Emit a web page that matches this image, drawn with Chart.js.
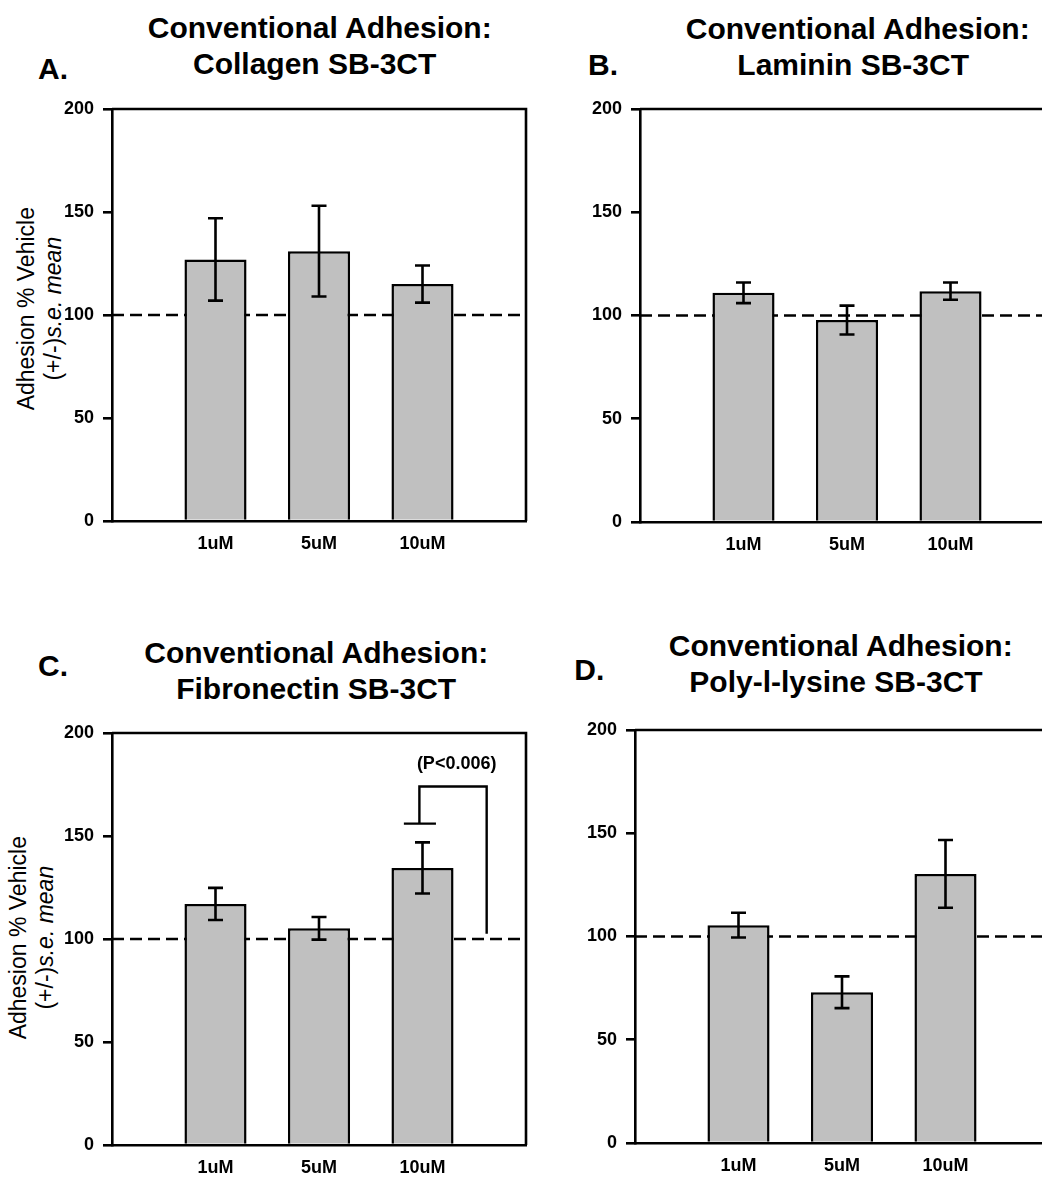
<!DOCTYPE html>
<html><head><meta charset="utf-8">
<script src="https://cdn.jsdelivr.net/npm/chart.js@4.4.0/dist/chart.umd.min.js"></script>
<style>
html,body{margin:0;padding:0;background:#fff;width:1042px;height:1177px;overflow:hidden;position:relative;font-family:'Liberation Sans',Arial,sans-serif;}
canvas{position:absolute;}
.t{position:absolute;width:600px;text-align:center;font-weight:bold;font-size:30px;line-height:30px;white-space:nowrap;color:#000;}
.lt{position:absolute;font-weight:bold;font-size:30px;line-height:30px;color:#000;white-space:nowrap;}
.yt{position:absolute;width:300px;height:53.4px;text-align:center;font-size:23px;line-height:26.7px;transform:rotate(-90deg);white-space:nowrap;color:#000;}
</style></head><body>
<div class="lt" style="left:38px;top:54px">A.</div>
<div class="t" style="left:19.7px;top:13.2px">Conventional Adhesion:</div>
<div class="t" style="left:14.7px;top:48.9px">Collagen SB-3CT</div>
<div class="yt" style="left:-109.6px;top:282.3px">Adhesion % Vehicle<br>(+/-)<i>s.e. mean</i></div>

<div class="lt" style="left:588px;top:50.3px">B.</div>
<div class="t" style="left:557.7px;top:13.9px">Conventional Adhesion:</div>
<div class="t" style="left:553.2px;top:50px">Laminin SB-3CT</div>

<div class="lt" style="left:38px;top:650.8px">C.</div>
<div class="t" style="left:16.3px;top:637.9px">Conventional Adhesion:</div>
<div class="t" style="left:16.2px;top:674px">Fibronectin SB-3CT</div>
<div class="yt" style="left:-117.9px;top:911.3px">Adhesion % Vehicle<br>(+/-)<i>s.e. mean</i></div>

<div class="lt" style="left:574.3px;top:654.8px">D.</div>
<div class="t" style="left:540.7px;top:630.9px">Conventional Adhesion:</div>
<div class="t" style="left:536px;top:666.6px">Poly-l-lysine SB-3CT</div>

<canvas id="cA" width="560" height="581" style="left:0;top:0"></canvas>
<canvas id="cB" width="540" height="582" style="left:540px;top:0"></canvas>
<canvas id="cC" width="560" height="605" style="left:0;top:600px"></canvas>
<canvas id="cD" width="540" height="603" style="left:540px;top:600px"></canvas>

<script>
// ---- data ----
const categories = ['1uM', '5uM', '10uM'];
const yTickValues = [0, 50, 100, 150, 200];
const vehicleLevel = 100;

const collagenMeans = [127, 131, 115];
const collagenErrors = [20, 22, 9];

const lamininMeans = [111, 97.8, 111.8];
const lamininErrors = [5, 7, 4.2];

const fibronectinMeans = [117, 105.2, 134.5];
const fibronectinErrors = [7.8, 5.5, 12.4];

const polylysineMeans = [105.5, 73, 130.3];
const polylysineErrors = [6, 7.7, 16.4];

const sigLabel = '(P<0.006)';
const sigBracketTop = 174;
const sigLeftEnd = 156;
const sigRightEnd = 102.5;

// ---- helpers ----
const FONT = "'Liberation Sans', Arial, sans-serif";
const padLabels = ['', ...categories, ''];
const pad = arr => [null, ...arr, null];

const errorBarPlugin = {
  id: 'errorBars',
  afterDatasetsDraw(chart, args, opts) {
    const meta = chart.getDatasetMeta(1);
    const ys = chart.scales.y;
    const ctx = chart.ctx;
    const vals = chart.data.datasets[1].data;
    const errs = opts.errors || [];
    ctx.save();
    ctx.strokeStyle = '#000';
    ctx.lineWidth = 2.6;
    meta.data.forEach((el, i) => {
      const v = vals[i], e = errs[i];
      if (v == null || e == null) return;
      const x = el.x;
      const yt = ys.getPixelForValue(v + e), yb = ys.getPixelForValue(v - e);
      ctx.beginPath();
      ctx.moveTo(x, yt); ctx.lineTo(x, yb);
      ctx.moveTo(x - 7.5, yt); ctx.lineTo(x + 7.5, yt);
      ctx.moveTo(x - 7.5, yb); ctx.lineTo(x + 7.5, yb);
      ctx.stroke();
    });
    ctx.restore();
  }
};

const framePlugin = {
  id: 'frame',
  afterDatasetsDraw(chart) {
    const {ctx, chartArea: a} = chart;
    ctx.save();
    ctx.strokeStyle = '#000';
    ctx.lineWidth = 2.6;
    ctx.beginPath();
    ctx.moveTo(a.left, a.top);
    ctx.lineTo(a.right, a.top);
    ctx.lineTo(a.right, a.bottom);
    ctx.stroke();
    ctx.restore();
  }
};

const bracketPlugin = {
  id: 'sigBracket',
  afterDatasetsDraw(chart) {
    const xs = chart.scales.x, ys = chart.scales.y, ctx = chart.ctx;
    const xl = xs.getPixelForValue(2.97);
    const xr = xs.getPixelForValue(3.62);
    const c1 = xs.getPixelForValue(2.82), c2 = xs.getPixelForValue(3.13);
    const yTop = ys.getPixelForValue(sigBracketTop);
    const yL = ys.getPixelForValue(sigLeftEnd);
    const yR = ys.getPixelForValue(sigRightEnd);
    ctx.save();
    ctx.strokeStyle = '#000';
    ctx.lineWidth = 2.4;
    ctx.beginPath();
    ctx.moveTo(c1, yL); ctx.lineTo(c2, yL);
    ctx.moveTo(xl, yL); ctx.lineTo(xl, yTop); ctx.lineTo(xr, yTop); ctx.lineTo(xr, yR);
    ctx.stroke();
    ctx.fillStyle = '#000';
    ctx.font = 'bold 18px ' + FONT;
    ctx.textAlign = 'center';
    ctx.textBaseline = 'middle';
    ctx.fillText(sigLabel, xs.getPixelForValue(3.33), ys.getPixelForValue(184.7));
    ctx.restore();
  }
};

function makePanel(id, means, errors, padding, extra) {
  const plugins = [errorBarPlugin, framePlugin];
  if (extra) plugins.push(extra);
  return new Chart(document.getElementById(id), {
    type: 'bar',
    data: {
      labels: padLabels,
      datasets: [
        {
          type: 'line',
          data: padLabels.map(() => vehicleLevel),
          borderColor: '#000',
          borderWidth: 2.6,
          borderDash: [12, 6],
          pointRadius: 0,
          fill: false,
          order: 2
        },
        {
          type: 'bar',
          data: pad(means),
          backgroundColor: '#c0c0c0',
          borderColor: '#000',
          borderWidth: 2.5,
          borderSkipped: 'start',
          categoryPercentage: 1,
          barPercentage: 0.6,
          order: 1
        }
      ]
    },
    options: {
      responsive: false,
      animation: false,
      devicePixelRatio: 1,
      layout: { padding: padding },
      plugins: {
        legend: { display: false },
        tooltip: { enabled: false },
        title: { display: false },
        errorBars: { errors: pad(errors) }
      },
      scales: {
        x: {
          type: 'category',
          offset: false,
          grid: { display: false, drawTicks: false },
          border: { display: true, color: '#000', width: 2.6 },
          ticks: {
            autoSkip: false, maxRotation: 0, padding: 12,
            color: '#000', font: { family: FONT, size: 18, weight: 'bold' }
          },
          afterFit(s) { s.height = 60; }
        },
        y: {
          min: 0, max: 200,
          afterBuildTicks(s) { s.ticks = yTickValues.map(v => ({ value: v })); },
          grid: { drawOnChartArea: false, drawTicks: true, tickLength: 9, color: '#000', lineWidth: 2.6 },
          border: { display: true, color: '#000', width: 2.6 },
          ticks: {
            padding: 9, color: '#000',
            font: { family: FONT, size: 18, weight: 'bold' }
          },
          afterFit(s) { s.width = 60; }
        }
      }
    },
    plugins: plugins
  });
}

makePanel('cA', collagenMeans, collagenErrors, { left: 52, top: 109, right: 34, bottom: 0 });
makePanel('cB', lamininMeans, lamininErrors, { left: 40, top: 109, right: 26, bottom: 0 });
makePanel('cC', fibronectinMeans, fibronectinErrors, { left: 52, top: 133, right: 34, bottom: 0 }, bracketPlugin);
makePanel('cD', polylysineMeans, polylysineErrors, { left: 35, top: 130, right: 31, bottom: 0 });
</script>
</body></html>
